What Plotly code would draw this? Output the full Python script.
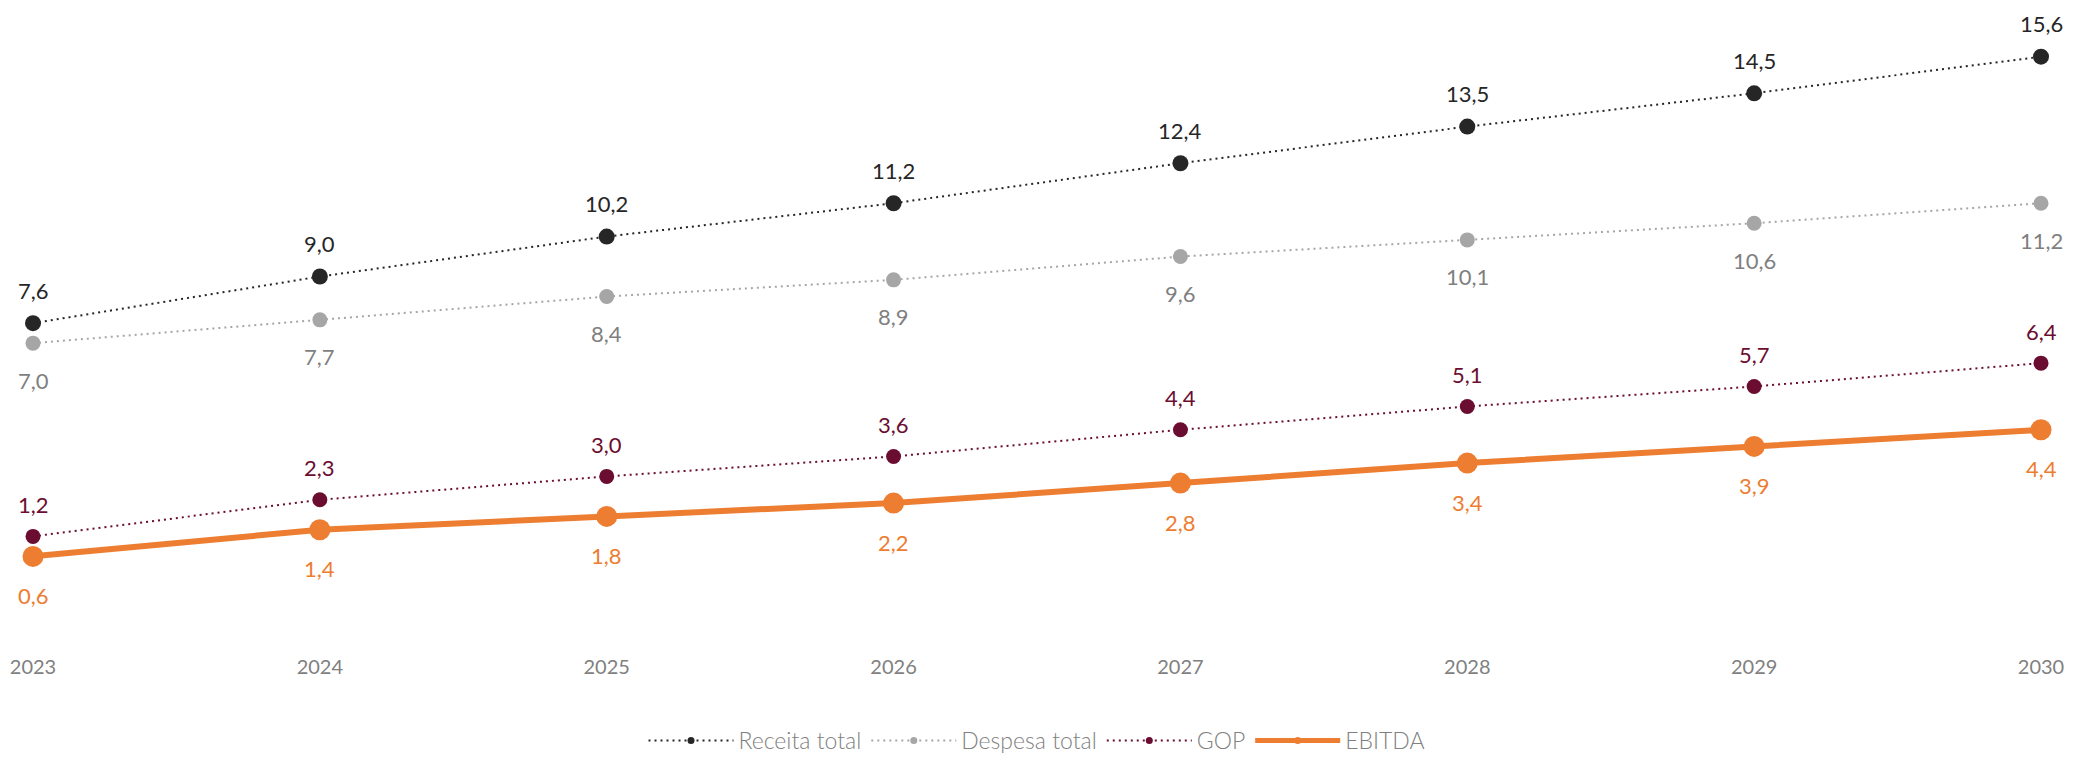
import plotly.graph_objects as go

years = [2023, 2024, 2025, 2026, 2027, 2028, 2029, 2030]
receita_total = [7.6, 9.0, 10.2, 11.2, 12.4, 13.5, 14.5, 15.6]
despesa_total = [7.0, 7.7, 8.4, 8.9, 9.6, 10.1, 10.6, 11.2]
gop = [1.2, 2.3, 3.0, 3.6, 4.4, 5.1, 5.7, 6.4]
ebitda = [0.6, 1.4, 1.8, 2.2, 2.8, 3.4, 3.9, 4.4]

series = [
    # name, values, line colour, label colour, line width, dash, marker size, label offset
    ("Receita total", receita_total, "#262626", "#262626", 2, "2px,4px", 16, 33),
    ("Despesa total", despesa_total, "#a6a6a6", "#7f7f7f", 2, "2px,4px", 15, -37),
    ("GOP", gop, "#6b0d31", "#6b0d31", 2, "2px,4px", 15, 32),
    ("EBITDA", ebitda, "#ed7d31", "#ed7d31", 6, "solid", 21, -39),
]

LABEL_FONT = "Lato, 'Open Sans', sans-serif"


def fmt(v):
    return f"{v:.1f}".replace(".", ",")


fig = go.Figure()
annotations = []

for name, vals, color, lcolor, width, dash, msize, off in series:
    fig.add_trace(go.Scatter(
        x=years, y=vals, mode="lines+markers", name=name,
        line=dict(color=color, width=width, dash=dash),
        marker=dict(color=color, size=msize),
        showlegend=False, hoverinfo="x+y", cliponaxis=False,
    ))
    # legend entry with a small marker
    fig.add_trace(go.Scatter(
        x=[None], y=[None], mode="lines+markers", name=name,
        line=dict(color=color, width=2 if width < 4 else 5, dash=dash),
        marker=dict(color=color, size=7),
        showlegend=True,
    ))
    for x, v in zip(years, vals):
        annotations.append(dict(
            x=x, y=v, text=fmt(v), showarrow=False,
            xanchor="center", yanchor="middle", yshift=off,
            font=dict(family=LABEL_FONT, size=22, color=lcolor),
        ))

fig.update_layout(
    width=2074, height=762,
    margin=dict(l=29, r=29, t=10, b=109),
    paper_bgcolor="white", plot_bgcolor="white",
    annotations=annotations,
    xaxis=dict(
        range=[2023, 2030], tickvals=years, ticktext=[str(y) for y in years],
        showgrid=False, zeroline=False, showline=False, ticks="",
        tickfont=dict(family=LABEL_FONT, size=20, color="#808080"),
        fixedrange=True,
    ),
    yaxis=dict(
        range=[-2.3, 17], visible=False, showgrid=False, zeroline=False,
        fixedrange=True,
    ),
    legend=dict(
        orientation="h", x=0.5, xanchor="center",
        yref="container", y=0, yanchor="bottom",
        font=dict(family="Lato, sans-serif", size=23, color="#808080", weight=300),
        itemwidth=85, tracegroupgap=0,
    ),
    showlegend=True,
)

fig.write_html("out.html")
